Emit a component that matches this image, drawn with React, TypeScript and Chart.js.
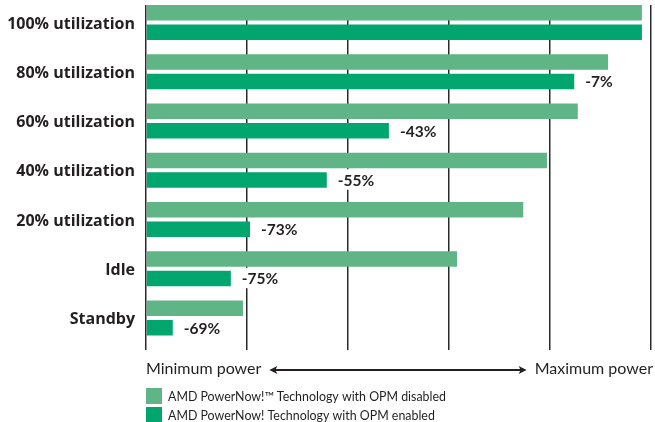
import React, { useEffect, useRef } from "react";
import { Chart, registerables } from "chart.js";

Chart.register(...registerables);

const categories = [
  "100% utilization",
  "80% utilization",
  "60% utilization",
  "40% utilization",
  "20% utilization",
  "Idle",
  "Standby",
];
const opmDisabled = [98.2, 91.5, 85.5, 79.4, 74.7, 61.6, 19.2];
const opmEnabled = [98.2, 84.8, 48.1, 35.8, 20.6, 16.8, 5.3];
const savingsLabels = ["", "-7%", "-43%", "-55%", "-73%", "-75%", "-69%"];
const seriesNames = [
  "AMD PowerNow!™ Technology with OPM disabled",
  "AMD PowerNow! Technology with OPM enabled",
];
const axisLabels = ["Minimum power", "Maximum power"];

const LIGHT = "rgb(95,181,133)";
const DARK = "rgb(0,166,110)";
const INK = "#231f20";
const FONT = "Lato, 'Open Sans', sans-serif";
const LABEL_FONT = "'Open Sans', Lato, sans-serif";

const overlayPlugin = {
  id: "overlay",
  afterDatasetsDraw(chart: any) {
    const ctx = chart.ctx;
    const meta = chart.getDatasetMeta(1);
    ctx.save();
    ctx.font = `bold 15.5px ${FONT}`;
    ctx.textAlign = "left";
    ctx.textBaseline = "middle";
    meta.data.forEach((bar: any, i: number) => {
      const t = savingsLabels[i];
      if (!t) return;
      const tx = bar.x + 11;
      const w = ctx.measureText(t).width;
      const h = bar.height;
      ctx.fillStyle = "#ffffff";
      ctx.fillRect(tx - 4, bar.y - h / 2 - 3, w + 7, h + 5);
      ctx.fillStyle = INK;
      ctx.fillText(t, tx, bar.y + 1);
    });
    ctx.restore();
  },
  afterDraw(chart: any) {
    const ctx = chart.ctx;
    const area = chart.chartArea;
    ctx.save();
    ctx.fillStyle = INK;
    ctx.strokeStyle = INK;
    ctx.font = `16px ${FONT}`;
    ctx.textBaseline = "middle";
    const y = area.bottom + 19;
    ctx.textAlign = "left";
    ctx.fillText(axisLabels[0], area.left, y);
    const w0 = ctx.measureText(axisLabels[0]).width;
    ctx.textAlign = "right";
    ctx.fillText(axisLabels[1], area.right + 2, y);
    const w1 = ctx.measureText(axisLabels[1]).width;
    const x0 = area.left + w0 + 8;
    const x1 = area.right + 2 - w1 - 8;
    ctx.lineWidth = 2;
    ctx.beginPath();
    ctx.moveTo(x0 + 4, y + 1);
    ctx.lineTo(x1 - 4, y + 1);
    ctx.stroke();
    ctx.beginPath();
    ctx.moveTo(x0, y + 1);
    ctx.lineTo(x0 + 8, y - 3);
    ctx.lineTo(x0 + 6, y + 1);
    ctx.lineTo(x0 + 8, y + 5);
    ctx.closePath();
    ctx.fill();
    ctx.beginPath();
    ctx.moveTo(x1, y + 1);
    ctx.lineTo(x1 - 8, y - 3);
    ctx.lineTo(x1 - 6, y + 1);
    ctx.lineTo(x1 - 8, y + 5);
    ctx.closePath();
    ctx.fill();

    // legend
    ctx.font = `12.4px ${FONT}`;
    ctx.textAlign = "left";
    chart.data.datasets.forEach((ds: any, i: number) => {
      const ty = area.bottom + 38 + i * 19;
      ctx.fillStyle = ds.backgroundColor;
      ctx.fillRect(area.left, ty, 16, 16);
      ctx.fillStyle = INK;
      ctx.fillText(ds.label, area.left + 22, ty + 8.5);
    });
    ctx.restore();
  },
};

export default function App() {
  const ref = useRef<HTMLCanvasElement | null>(null);
  useEffect(() => {
    document.body.style.margin = "0";
    if (!ref.current) return;
    const chart = new Chart(ref.current, {
      type: "bar",
      data: {
        datasets: [
          {
            label: seriesNames[0],
            data: opmDisabled.map((v, i) => ({ x: v, y: i })),
            backgroundColor: LIGHT,
          },
          {
            label: seriesNames[1],
            data: opmEnabled.map((v, i) => ({ x: v, y: i })),
            backgroundColor: DARK,
          },
        ],
      },
      options: {
        animation: false,
        responsive: false,
        indexAxis: "y",
        categoryPercentage: 0.792,
        barPercentage: 0.795,
        layout: { padding: { top: 5, right: 4, bottom: 72, left: 0 } },
        plugins: { legend: { display: false }, tooltip: { enabled: false } },
        scales: {
          x: {
            type: "linear",
            min: 0,
            max: 100,
            afterFit: (s: any) => {
              s.paddingLeft = 0;
              s.paddingRight = 0;
            },
            ticks: { display: false, stepSize: 20 },
            grid: { color: "#2a2a2a", lineWidth: 1.5, drawTicks: false },
            border: { display: false },
          },
          y: {
            type: "linear",
            reverse: true,
            offset: false,
            min: -0.355,
            max: 6.65,
            afterFit: (s: any) => {
              s.width = 146;
              s.paddingTop = 0;
              s.paddingBottom = 0;
            },
            ticks: {
              stepSize: 1,
              includeBounds: false,
              autoSkip: false,
              padding: 11,
              labelOffset: 1.5,
              color: INK,
              font: { family: LABEL_FONT, size: 16, weight: "bold" },
              callback: (v: any) => (Number.isInteger(v) ? categories[v] : ""),
            },
            grid: { display: false, drawTicks: false, offset: false },
            border: { display: false },
          },
        },
      },
      plugins: [overlayPlugin],
    } as any);
    return () => chart.destroy();
  }, []);
  return <canvas ref={ref} width={655} height={422} style={{ display: "block" }} />;
}
